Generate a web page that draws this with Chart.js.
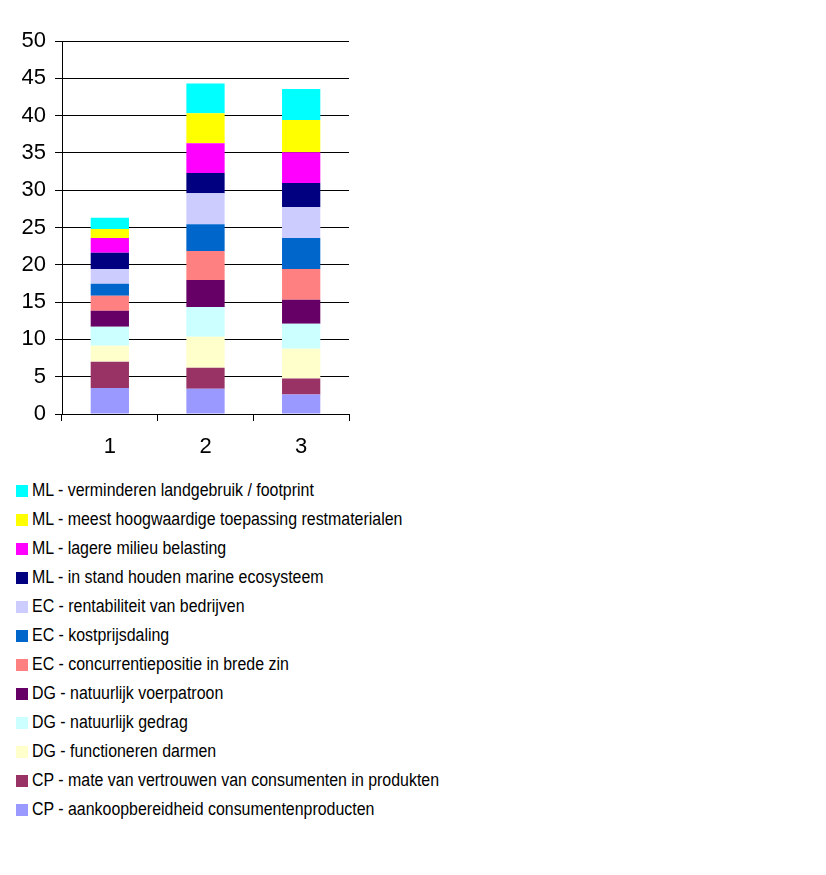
<!DOCTYPE html>
<html>
<head>
<meta charset="utf-8">
<script src="https://cdn.jsdelivr.net/npm/chart.js@4"></script>
<style>
  html, body { margin: 0; padding: 0; background: #fff; }
  #wrap { position: absolute; left: 0; top: 0; width: 826px; height: 470px; }
  #legend { position: absolute; left: 16px; top: 476px; font-family: 'Liberation Sans', Arial, sans-serif; font-size: 18px; color: #000; }
  .row { height: 29px; display: flex; align-items: center; white-space: nowrap; }
  .box { width: 12px; height: 12px; margin-right: 4px; flex: none; }
  .txt { display: inline-block; transform: scaleX(0.885); transform-origin: 0 50%; }
</style>
</head>
<body>
<div id="wrap"><canvas id="c"></canvas></div>
<div id="legend"></div>
<script>
const categories = ['1', '2', '3'];
const seriesNames = [
  'CP - aankoopbereidheid consumentenproducten',
  'CP - mate van vertrouwen van consumenten in produkten',
  'DG - functioneren darmen',
  'DG - natuurlijk gedrag',
  'DG - natuurlijk voerpatroon',
  'EC - concurrentiepositie in brede zin',
  'EC - kostprijsdaling',
  'EC - rentabiliteit van bedrijven',
  'ML - in stand houden marine ecosysteem',
  'ML - lagere milieu belasting',
  'ML - meest hoogwaardige toepassing restmaterialen',
  'ML - verminderen landgebruik / footprint'
];
const cpAankoop      = [3.5, 3.4, 2.6];
const cpVertrouwen   = [3.5, 2.8, 2.15];
const dgDarmen       = [2.15, 4.15, 4.0];
const dgGedrag       = [2.55, 4.0, 3.35];
const dgVoerpatroon  = [2.15, 3.6, 3.2];
const ecConcurrentie = [2.0, 3.9, 4.15];
const ecKostprijs    = [1.6, 3.6, 4.15];
const ecRentabiliteit= [2.0, 4.15, 4.15];
const mlMarine       = [2.15, 2.7, 3.2];
const mlMilieu       = [2.0, 4.0, 4.15];
const mlRestmat      = [1.2, 4.0, 4.3];
const mlLandgebruik  = [1.5, 4.0, 4.15];
const yTicks = [0, 5, 10, 15, 20, 25, 30, 35, 40, 45, 50];

const seriesValues = [cpAankoop, cpVertrouwen, dgDarmen, dgGedrag, dgVoerpatroon,
  ecConcurrentie, ecKostprijs, ecRentabiliteit, mlMarine, mlMilieu, mlRestmat, mlLandgebruik];
const colors = ['#9999FF', '#993366', '#FFFFCC', '#CCFFFF', '#660066', '#FF8080',
  '#0066CC', '#CCCCFF', '#000080', '#FF00FF', '#FFFF00', '#00FFFF'];

const FONT = "'Liberation Sans', Arial, sans-serif";

const chart = new Chart(document.getElementById('c'), {
  type: 'bar',
  data: {
    labels: categories,
    datasets: seriesNames.map((n, i) => ({
      label: n,
      data: seriesValues[i],
      backgroundColor: colors[i],
      borderWidth: 0,
      categoryPercentage: 1.0,
      barPercentage: 0.4
    }))
  },
  options: {
    responsive: true,
    maintainAspectRatio: false,
    animation: false,
    devicePixelRatio: 1,
    layout: { padding: { left: 0, top: 41, right: 477, bottom: 6 } },
    plugins: { legend: { display: false }, tooltip: { enabled: false } },
    scales: {
      x: {
        stacked: true,
        grid: { display: true, drawOnChartArea: false, drawTicks: true, tickLength: 7, color: '#000', offset: true },
        border: { display: true, color: '#000', width: 1 },
        ticks: { color: '#000', font: { family: FONT, size: 22 }, padding: 13 },
        afterFit: s => { s.height = 50; }
      },
      y: {
        stacked: true,
        min: 0, max: 50,
        afterBuildTicks: s => { s.ticks = yTicks.map(v => ({ value: v })); },
        grid: { color: '#000', lineWidth: 1, drawTicks: true, tickLength: 7 },
        border: { display: true, color: '#000', width: 1 },
        ticks: { color: '#000', font: { family: FONT, size: 22 }, padding: 9 },
        afterFit: s => { s.width = 62; }
      }
    }
  }
});

const legend = document.getElementById('legend');
for (let i = chart.data.datasets.length - 1; i >= 0; i--) {
  const ds = chart.data.datasets[i];
  const row = document.createElement('div');
  row.className = 'row';
  const box = document.createElement('span');
  box.className = 'box';
  box.style.background = ds.backgroundColor;
  const t = document.createElement('span');
  t.className = 'txt';
  t.textContent = ds.label;
  row.appendChild(box);
  row.appendChild(t);
  legend.appendChild(row);
}
</script>
</body>
</html>
